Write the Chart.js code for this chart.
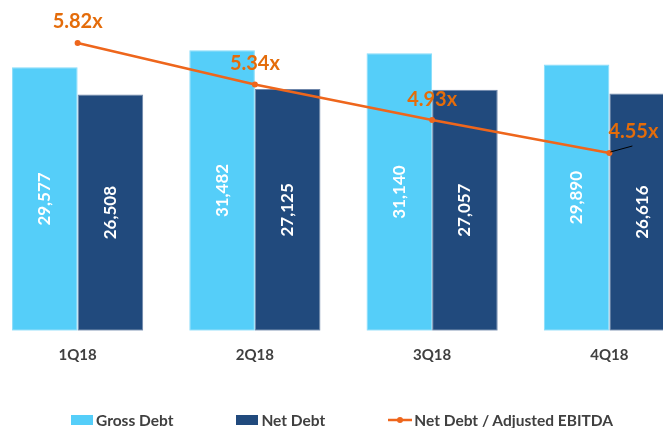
<!DOCTYPE html>
<html>
<head>
<meta charset="utf-8">
<script src="https://cdn.jsdelivr.net/npm/chart.js@4.4.1/dist/chart.umd.min.js"></script>
<style>
html, body { margin: 0; padding: 0; background: #fff; overflow: hidden; width: 663px; height: 428px; }
#wrap { position: absolute; left: -15px; top: 0; width: 717px; height: 428px; }
#legend { position: absolute; left: 71px; top: 412px; height: 16px; display: flex; align-items: center; gap: 63px;
  font: bold 15.5px Lato, sans-serif; color: #404040; white-space: nowrap; }
#legend .item { display: flex; align-items: center; }
#legend .box { width: 22px; height: 10px; margin-right: 3px; }
#legend svg { margin-right: 2px; }
</style>
</head>
<body>
<div id="wrap"><canvas id="debtChart" width="717" height="428"></canvas></div>
<div id="legend"></div>
<script>
// data
var quarters = ["1Q18", "2Q18", "3Q18", "4Q18"];
var grossDebt = [29577, 31482, 31140, 29890];
var netDebt = [26508, 27125, 27057, 26616];
var leverage = [5.82, 5.34, 4.93, 4.55];

var lightBlue = '#55CEF9';
var navy = '#214A7D';
var orange = '#EE661C';
var labelOrange = '#E46C0A';
var textGrey = '#404040';

// value labels inside bars and above line points
var valueLabels = {
  id: 'valueLabels',
  afterDatasetsDraw: function (chart) {
    var ctx = chart.ctx;
    [0, 1].forEach(function (di) {
      var meta = chart.getDatasetMeta(di);
      meta.data.forEach(function (bar, i) {
        var v = chart.data.datasets[di].data[i];
        ctx.save();
        ctx.translate(bar.x, (bar.y + bar.base) / 2);
        ctx.rotate(-Math.PI / 2);
        ctx.fillStyle = '#fff';
        ctx.font = 'bold 17px Lato';
        ctx.textAlign = 'center';
        ctx.textBaseline = 'middle';
        ctx.fillText(v.toLocaleString('en-US'), 0, 0);
        ctx.restore();
      });
    });
    var lm = chart.getDatasetMeta(2);
    lm.data.forEach(function (pt, i) {
      var dx = (i === lm.data.length - 1) ? 24 : 0;
      ctx.save();
      if (dx) {
        ctx.strokeStyle = '#000';
        ctx.lineWidth = 1;
        ctx.beginPath();
        ctx.moveTo(pt.x + 1, pt.y - 1);
        ctx.lineTo(pt.x + 23, pt.y - 7);
        ctx.stroke();
      }
      ctx.fillStyle = labelOrange;
      ctx.font = 'bold 20px Lato';
      ctx.textAlign = 'center';
      ctx.textBaseline = 'middle';
      ctx.fillText(leverage[i].toFixed(2) + 'x', pt.x + dx, pt.y - 21);
      ctx.restore();
    });
  }
};

var ctx = document.getElementById('debtChart').getContext('2d');
var debtChart = new Chart(ctx, {
  type: 'bar',
  data: {
    labels: quarters,
    datasets: [{
      label: 'Gross Debt',
      data: grossDebt,
      backgroundColor: lightBlue,
      borderColor: '#86DCFA',
      borderWidth: 1,
      borderSkipped: false,
      categoryPercentage: 0.74,
      barPercentage: 1.0,
      yAxisID: 'y',
      order: 1
    }, {
      label: 'Net Debt',
      data: netDebt,
      backgroundColor: navy,
      borderColor: '#6F86AA',
      borderWidth: 1,
      borderSkipped: false,
      categoryPercentage: 0.74,
      barPercentage: 1.0,
      yAxisID: 'y',
      order: 1
    }, {
      type: 'line',
      label: 'Net Debt / Adjusted EBITDA',
      data: leverage,
      borderColor: orange,
      backgroundColor: orange,
      borderWidth: 2.5,
      pointRadius: 3,
      pointBackgroundColor: orange,
      pointBorderWidth: 0,
      yAxisID: 'y2',
      order: 0
    }]
  },
  options: {
    responsive: false,
    animation: false,
    layout: { padding: { top: 10, left: 0, right: 0, bottom: 0 } },
    scales: {
      x: {
        grid: { display: false, drawTicks: false },
        border: { display: false },
        ticks: { color: textGrey, font: { family: 'Lato', weight: 'bold', size: 15 }, padding: 15 },
        afterFit: function (scale) { scale.height = 97.3; }
      },
      y: { display: false, min: 0, max: 36000 },
      y2: { display: false, min: 2.5, max: 6.2 }
    },
    plugins: {
      tooltip: { enabled: false },
      legend: { display: false }
    }
  },
  plugins: [valueLabels]
});

// legend built from the chart's datasets
var legendEl = document.getElementById('legend');
debtChart.data.datasets.forEach(function (ds) {
  var item = document.createElement('span');
  item.className = 'item';
  var mark;
  if (ds.type === 'line') {
    mark = document.createElementNS('http://www.w3.org/2000/svg', 'svg');
    mark.setAttribute('width', '24');
    mark.setAttribute('height', '10');
    mark.innerHTML = '<line x1="0" y1="5" x2="24" y2="5" stroke="' + ds.borderColor + '" stroke-width="2.5"/>' +
      '<circle cx="12" cy="5" r="3" fill="' + ds.borderColor + '"/>';
  } else {
    mark = document.createElement('span');
    mark.className = 'box';
    mark.style.background = ds.backgroundColor;
  }
  item.appendChild(mark);
  item.appendChild(document.createTextNode(ds.label));
  legendEl.appendChild(item);
});
</script>
</body>
</html>
